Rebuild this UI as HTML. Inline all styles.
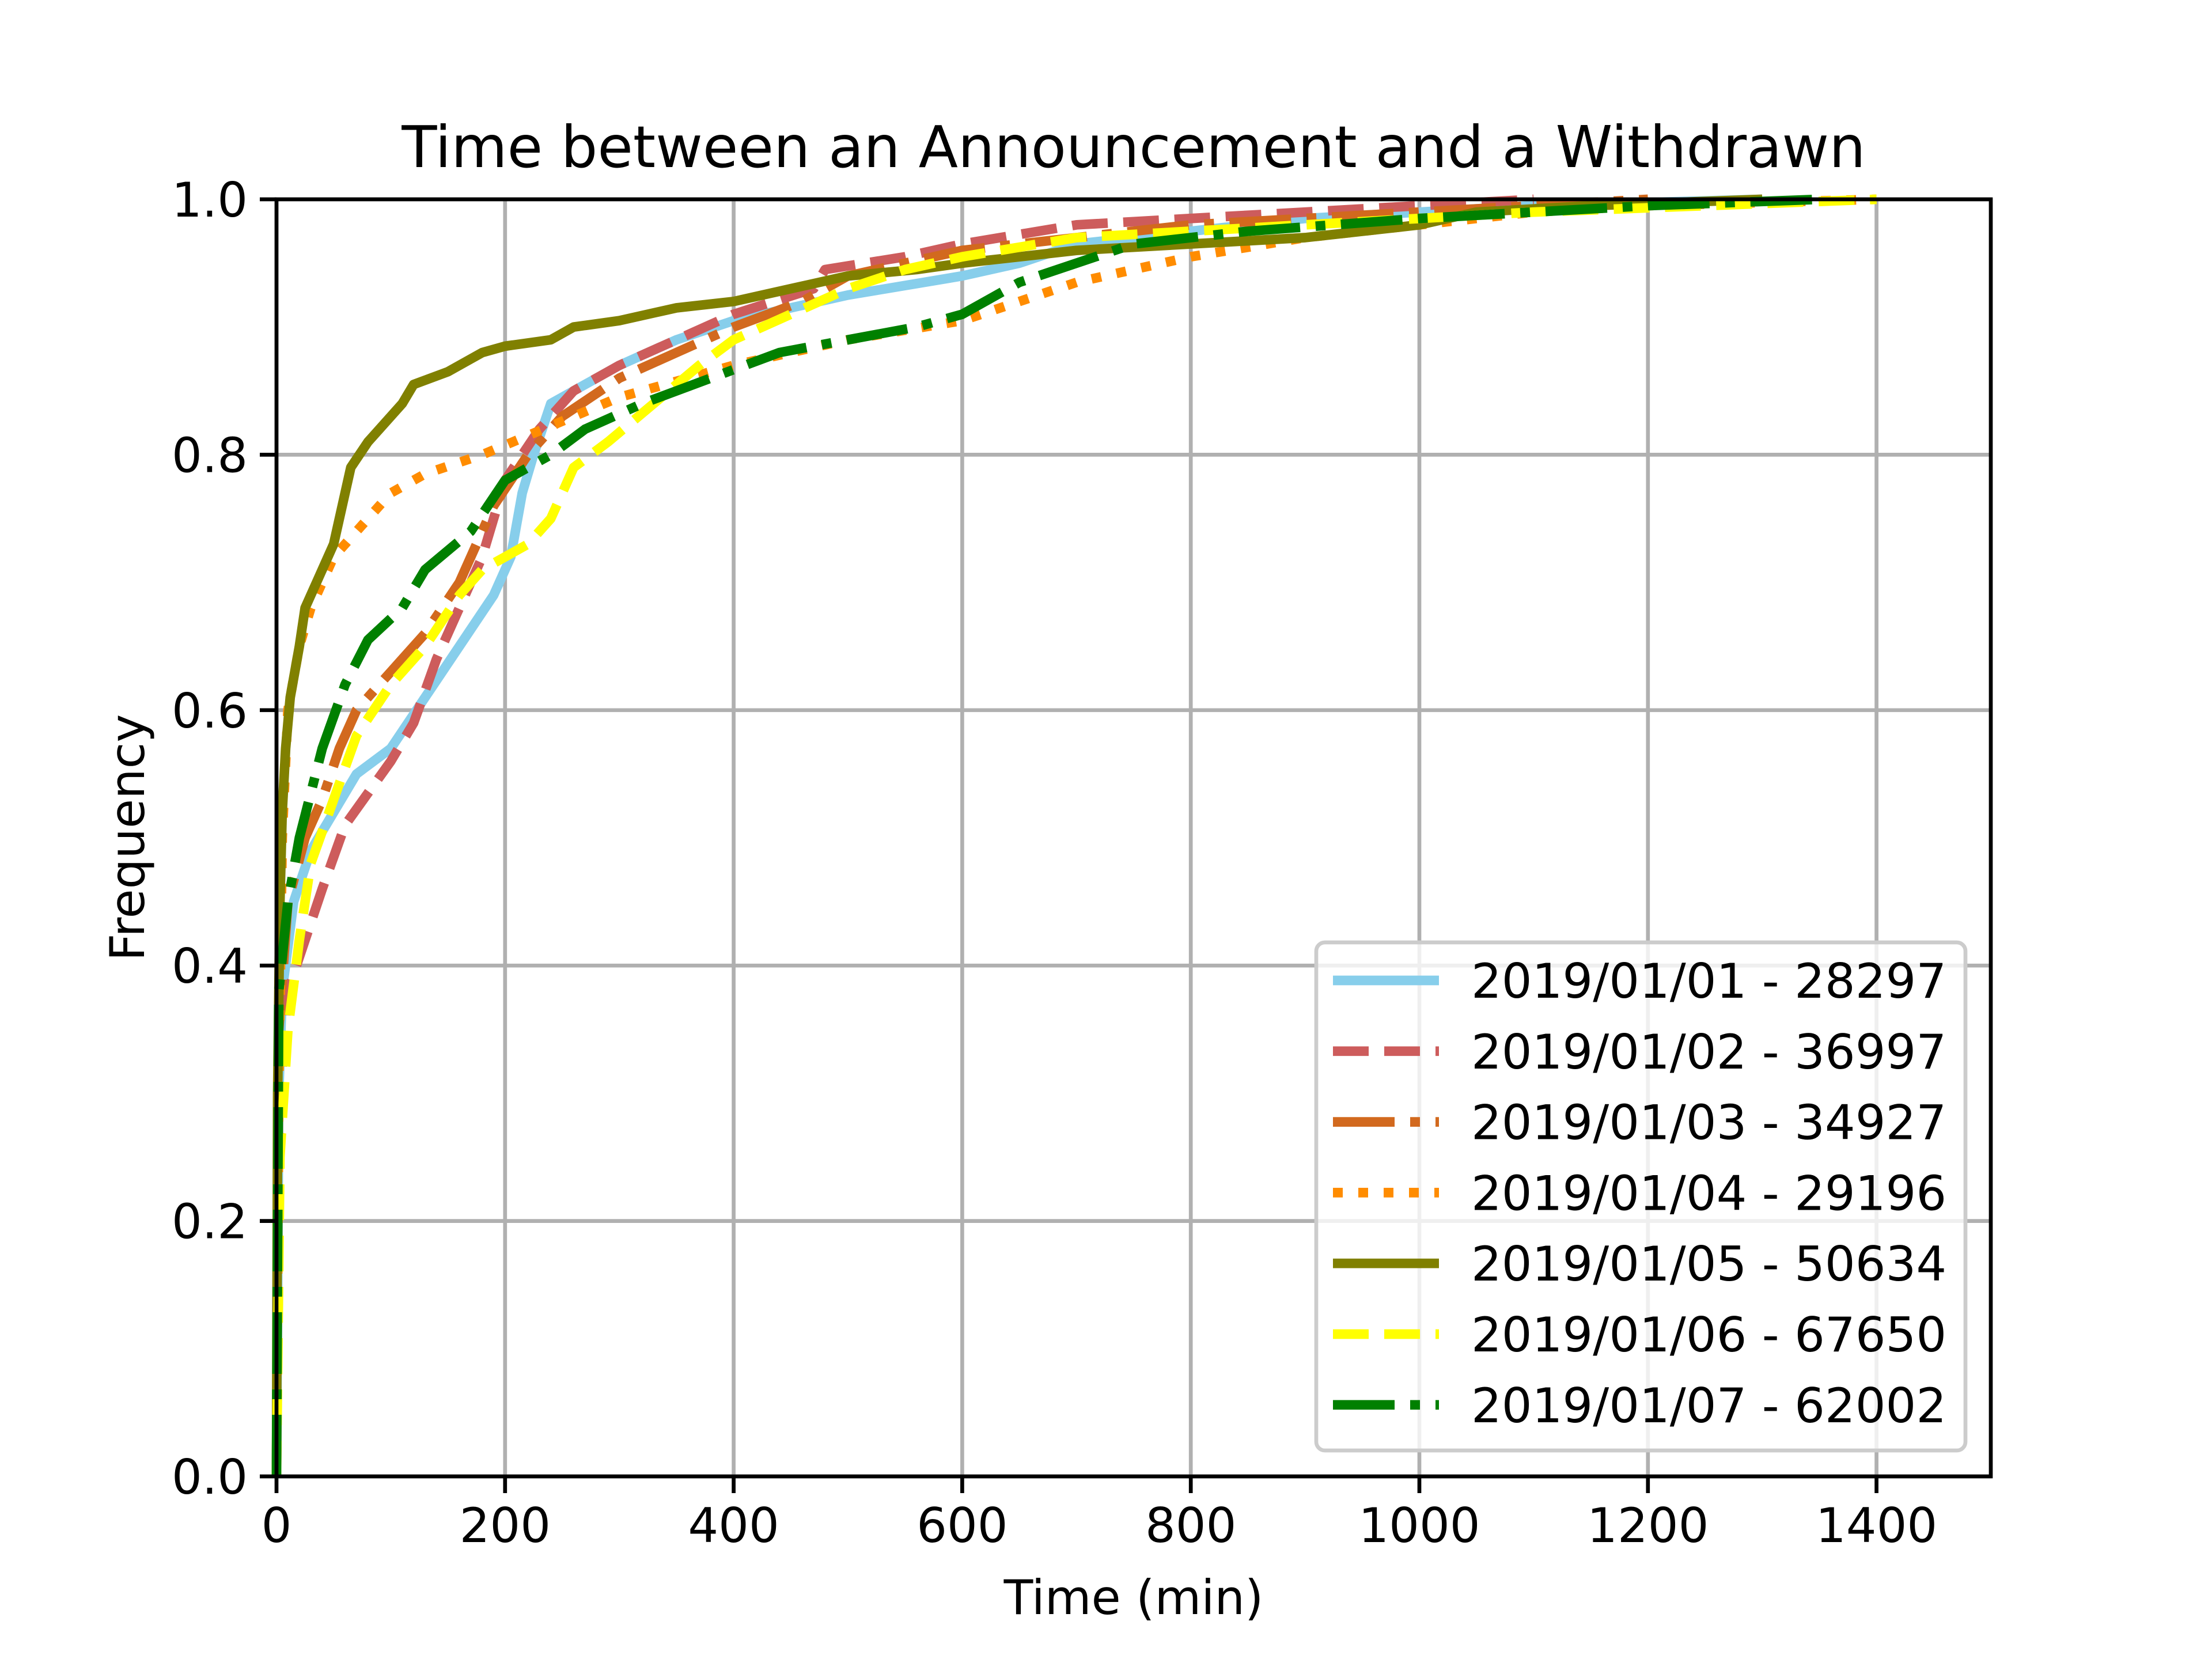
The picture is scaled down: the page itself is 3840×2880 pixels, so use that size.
<!DOCTYPE html>
<html><head><meta charset="utf-8"><style>
html,body{margin:0;padding:0;background:#fff}
svg{display:block;font-family:"DejaVu Sans","Liberation Sans",sans-serif}
</style></head><body>
<svg id="chart" width="3840" height="2880" viewBox="0 0 3840 2880" xmlns="http://www.w3.org/2000/svg">
<rect width="3840" height="2880" fill="#fff"/>
<g id="grid"></g>
<g id="series"></g>
<rect x="480" y="346" width="2976" height="2217" fill="none" stroke="#000" stroke-width="6.7"/>
<g id="ticks"></g>
<text x="1968" y="290" font-size="100" text-anchor="middle">Time between an Announcement and a Withdrawn</text>
<text x="1968" y="2802" font-size="83" text-anchor="middle">Time (min)</text>
<text x="0" y="0" font-size="83" text-anchor="middle" transform="translate(250,1454) rotate(-90)">Frequency</text>
<g id="legend"></g>
</svg>
<script>
const xTicks=[0,200,400,600,800,1000,1200,1400];
const yTicks=[0,0.2,0.4,0.6,0.8,1.0];
const seriesLabels=["2019/01/01 - 28297","2019/01/02 - 36997","2019/01/03 - 34927","2019/01/04 - 29196","2019/01/05 - 50634","2019/01/06 - 67650","2019/01/07 - 62002"];
const t1=[0,2,5,15,30,50,70,100,130,160,190,205,215,225,240,260,300,350,400,500,600,650,700,800,900,1000,1100,1300];
const f1=[0,0.3,0.38,0.45,0.49,0.52,0.55,0.57,0.61,0.65,0.69,0.72,0.77,0.8,0.84,0.85,0.87,0.89,0.905,0.925,0.94,0.95,0.965,0.975,0.985,0.99,0.995,1.0];
const t2=[0,3,10,25,40,60,80,100,120,140,160,180,200,230,260,300,350,400,470,480,550,600,700,800,900,1000,1100];
const f2=[0,0.3,0.38,0.42,0.46,0.51,0.535,0.56,0.59,0.64,0.68,0.72,0.78,0.82,0.85,0.87,0.89,0.91,0.93,0.945,0.955,0.965,0.98,0.985,0.99,0.995,1.0];
const t3=[0,2,10,25,40,55,70,100,130,160,190,220,250,300,350,400,460,500,600,700,800,1000,1200];
const f3=[0,0.35,0.45,0.5,0.53,0.57,0.6,0.63,0.66,0.7,0.76,0.8,0.83,0.86,0.88,0.9,0.92,0.94,0.96,0.97,0.98,0.99,1.0];
const t4=[0,2,5,10,20,30,50,70,100,130,180,220,260,300,400,500,600,650,700,800,900,1000,1100,1200,1400];
const f4=[0,0.3,0.5,0.6,0.65,0.68,0.72,0.74,0.77,0.785,0.8,0.815,0.83,0.845,0.87,0.89,0.905,0.92,0.935,0.955,0.97,0.98,0.99,0.995,1.0];
const t5=[0,1,3,5,8,12,20,25,35,50,55,65,80,90,110,120,150,180,200,240,260,300,350,400,450,500,560,600,700,800,900,1000,1050,1150,1300];
const f5=[0,0.3,0.45,0.52,0.57,0.61,0.65,0.68,0.7,0.73,0.75,0.79,0.81,0.82,0.84,0.855,0.865,0.88,0.885,0.89,0.9,0.905,0.915,0.92,0.93,0.94,0.945,0.95,0.96,0.965,0.97,0.98,0.99,0.995,1.0];
const t6=[0,3,10,20,30,50,70,100,130,160,180,220,240,260,290,330,370,400,450,500,550,600,700,800,900,1000,1100,1400];
const f6=[0,0.25,0.35,0.42,0.48,0.53,0.58,0.62,0.65,0.69,0.71,0.73,0.75,0.79,0.81,0.84,0.87,0.89,0.91,0.93,0.945,0.955,0.97,0.975,0.98,0.985,0.99,1.0];
const t7=[0,2,10,20,40,60,80,110,130,170,200,240,270,320,380,440,500,560,600,650,700,750,850,1000,1100,1200,1350];
const f7=[0,0.38,0.45,0.5,0.57,0.62,0.655,0.68,0.71,0.74,0.78,0.8,0.82,0.84,0.86,0.88,0.89,0.9,0.91,0.935,0.95,0.965,0.975,0.985,0.99,0.995,1.0];
const allT=[t1,t2,t3,t4,t5,t6,t7], allF=[f1,f2,f3,f4,f5,f6,f7];
const colors=["#87ceeb","#cd5c5c","#d2691e","#ff8c00","#808000","#ffff00","#008000"];
const dashes=["","62,27","107,27,17,27","17,27","","62,27","107,27,17,27"];
const NS="http://www.w3.org/2000/svg";
const X=v=>480+v/1500*2976, Y=v=>2563-v*2217;
function mk(tag,attrs,parent){const e=document.createElementNS(NS,tag);for(const k in attrs)e.setAttribute(k,attrs[k]);parent.appendChild(e);return e;}
const grid=document.getElementById('grid'),ticks=document.getElementById('ticks');
xTicks.forEach(v=>{
 const g=mk('line',{x1:X(v),x2:X(v),y1:346,y2:2563,stroke:'#b0b0b0','stroke-width':6.7},grid);
 
 
 const t=mk('line',{x1:X(v),x2:X(v),y1:2563,y2:2592,stroke:'#000','stroke-width':6.7},ticks);
 
 
 const l=mk('text',{x:X(v),y:2677,'font-size':83,'text-anchor':'middle'},ticks);l.textContent=v;
 
 
});
yTicks.forEach(v=>{
 const g=mk('line',{x1:480,x2:3456,y1:Y(v),y2:Y(v),stroke:'#b0b0b0','stroke-width':6.7},grid);
 
 
 const t=mk('line',{x1:451,x2:480,y1:Y(v),y2:Y(v),stroke:'#000','stroke-width':6.7},ticks);
 
 
 const l=mk('text',{x:430,y:Y(v)+30,'font-size':83,'text-anchor':'end'},ticks);l.textContent=v.toFixed(1);
 
 
});
const sg=document.getElementById('series');
allT.forEach((ts,i)=>{
 const pts=ts.map((t,j)=>X(t)+','+Y(allF[i][j])).join(' ');
 const p=mk('polyline',{points:pts,fill:'none',stroke:colors[i],'stroke-width':16.7,'stroke-linejoin':'round'},sg);
 if(dashes[i])p.setAttribute('stroke-dasharray',dashes[i]);
 
 
});
const lg=document.getElementById('legend');
const box=mk('rect',{x:2285,y:1636,width:1127,height:882,rx:15,fill:'#fff','fill-opacity':0.8,stroke:'#ccc','stroke-width':6.7},lg);


seriesLabels.forEach((s,i)=>{
 const y=1702+i*122.8;
 const l=mk('line',{x1:2314,x2:2498,y1:y,y2:y,stroke:colors[i],'stroke-width':16.7},lg);
 if(dashes[i])l.setAttribute('stroke-dasharray',dashes[i]);
 
 
 const t=mk('text',{x:2554,y:y+30,'font-size':83},lg);t.textContent=s;
 
 
});
</script>
</body></html>
